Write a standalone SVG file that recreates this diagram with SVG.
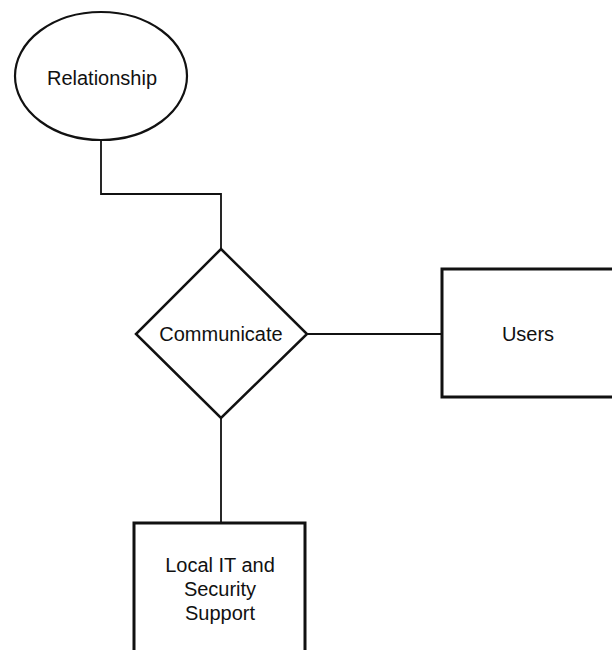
<svg xmlns="http://www.w3.org/2000/svg" width="612" height="650" viewBox="0 0 612 650">
  <style>
    .shape { fill: #ffffff; stroke: #111111; }
    .box { stroke-width: 3; }
    .link { fill: none; stroke: #111111; stroke-width: 1.8; }
    .label { font-family: "Liberation Sans", Arial, sans-serif; font-size: 20px; fill: #111111; text-anchor: middle; }
  </style>
  <rect width="612" height="650" fill="#ffffff"/>

  <!-- connectors -->
  <g id="connectors">
    <polyline class="link" points="101,140 101,194 221,194 221,249"/>
    <line class="link" x1="307" y1="334" x2="442" y2="334"/>
    <line class="link" x1="221" y1="418" x2="221" y2="523"/>
  </g>

  <!-- relationship attribute -->
  <g id="relationship">
    <ellipse class="shape" cx="101" cy="76" rx="86" ry="64" stroke-width="2.2"/>
    <text class="label" x="102" y="85">Relationship</text>
  </g>

  <!-- relationship diamond -->
  <g id="communicate">
    <polygon class="shape" points="221,249 307,334 221,418 136,334" stroke-width="2.5"/>
    <text class="label" x="221" y="341">Communicate</text>
  </g>

  <!-- entities -->
  <g id="users">
    <rect class="shape box" x="442" y="269" width="172" height="128"/>
    <text class="label" x="528" y="341">Users</text>
  </g>

  <g id="local-it">
    <rect class="shape box" x="134" y="523" width="171" height="140"/>
    <text class="label" x="220" y="572">Local IT and</text>
    <text class="label" x="220" y="596">Security</text>
    <text class="label" x="220" y="620">Support</text>
  </g>
</svg>
